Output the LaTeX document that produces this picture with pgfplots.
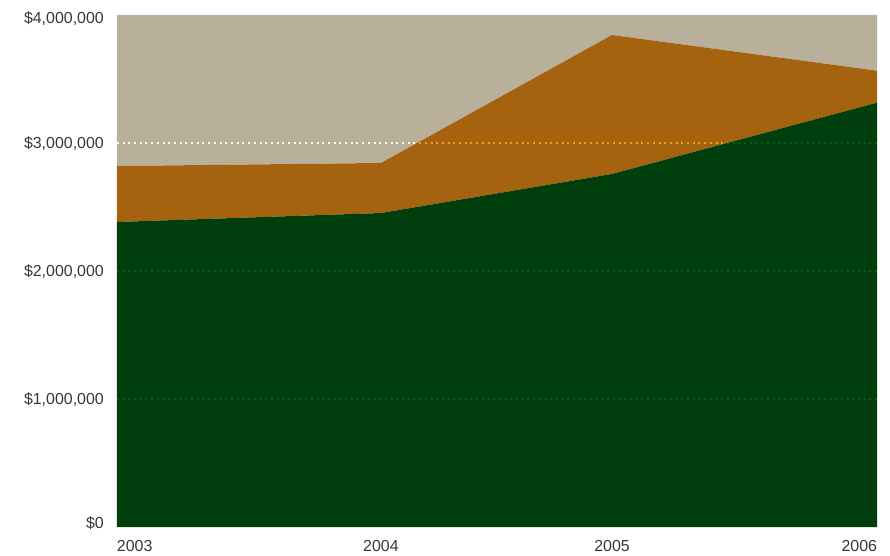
\documentclass[border=0pt]{standalone}
\usepackage{pgfplots}
\pgfplotsset{compat=1.18}
\usepackage{fontspec}
\setmainfont{Liberation Sans}
\definecolor{tanc}{RGB}{184,176,154}
\definecolor{rust}{RGB}{165,99,15}
\definecolor{dgreen}{RGB}{0,63,13}
\definecolor{lab}{RGB}{55,55,55}
\begin{document}
\begin{tikzpicture}
\begin{axis}[
  scale only axis, width=760bp, height=512bp,
  xmin=2003, xmax=2006, ymin=0, ymax=4000000,
  scaled y ticks=false, scaled x ticks=false,
  stack plots=y,
  axis line style={draw=none},
  major tick length=0pt,
  xtick={2003,2004.042,2004.954,2006},
  xticklabels={\makebox[0pt][l]{2003},2004,2005,\makebox[0pt][r]{2006}},
  ytick={0,1000000,2000000,3000000,4000000},
  yticklabels={{\raisebox{4.5bp}{\$0}},{\$1,000,000},{\$2,000,000},{\$3,000,000},{\raisebox{-2.5bp}{\$4,000,000}}},
  ticklabel style={font=\fontsize{16}{19}\selectfont, text=lab},
  yticklabel style={anchor=base east, inner sep=0pt, xshift=-13bp, yshift=-5.7bp},
  xticklabel style={anchor=base, inner sep=0pt, yshift=-24bp},
  extra y ticks={1000000,2000000,3000000},
  extra y tick labels={},
  extra y tick style={grid=major},
  major grid style={draw=black!65, line width=2bp, dash pattern=on 2bp off 3.7bp, blend mode=color dodge},
  axis on top,
]
\addplot[fill=dgreen, draw=none] coordinates {(2003,2383000) (2004.042,2453000) (2004.954,2758000) (2006,3315000)} \closedcycle;
\addplot[fill=rust, draw=none] coordinates {(2003,437000) (2004.042,391000) (2004.954,1086000) (2006,250000)} \closedcycle;
\addplot[fill=tanc, draw=none] coordinates {(2003,1180000) (2004.042,1156000) (2004.954,156000) (2006,435000)} \closedcycle;
\end{axis}
\path ([shift={(-117bp,-29bp)}]current axis.south west) rectangle ([shift={(13bp,15bp)}]current axis.north east);
\end{tikzpicture}
\end{document}
